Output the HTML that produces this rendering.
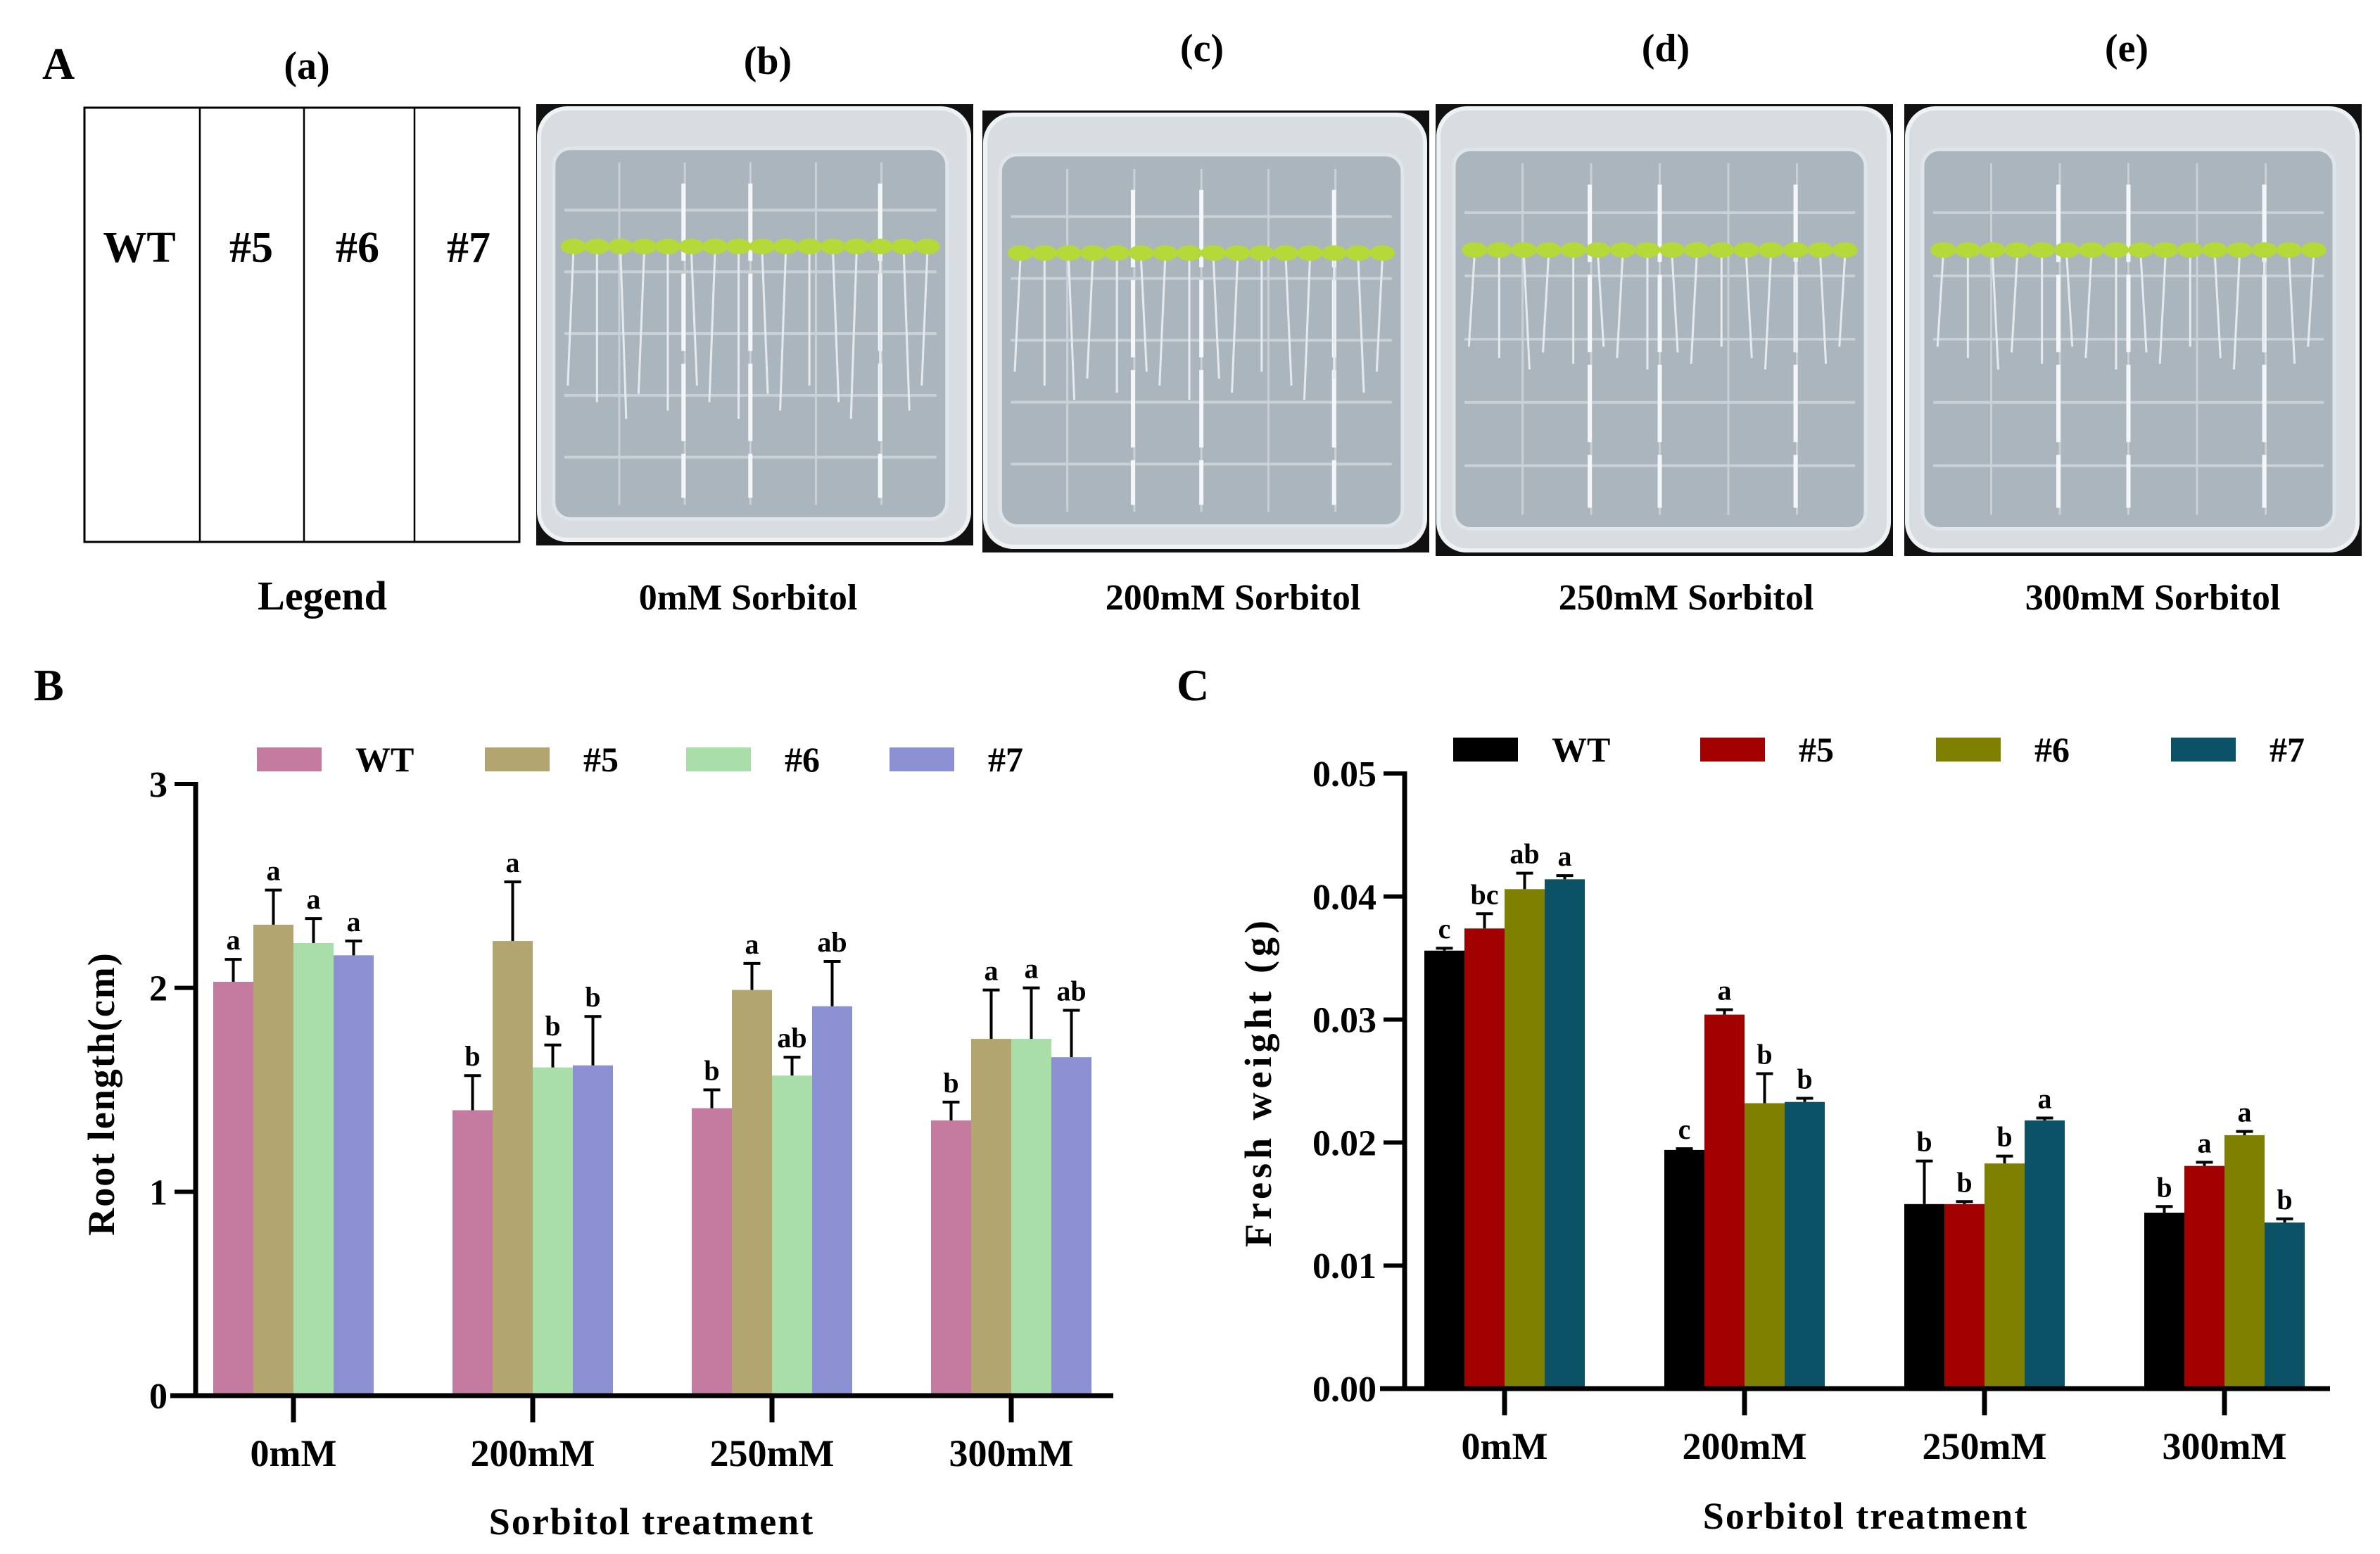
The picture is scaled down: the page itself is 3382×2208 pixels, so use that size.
<!DOCTYPE html>
<html><head><meta charset="utf-8"><style>
html,body{margin:0;padding:0;background:#fff}
svg{display:block}
text{font-family:"Liberation Serif",serif;font-weight:bold;fill:#000}
</style></head><body>
<svg id="fig" width="3382" height="2208" viewBox="0 0 3382 2208" xmlns="http://www.w3.org/2000/svg">
<g id="panelA">
<text x="60" y="112" font-size="64">A</text>
<text x="436" y="112" font-size="56" text-anchor="middle">(a)</text>
<rect x="120" y="153" width="618" height="617" fill="#fff" stroke="#000" stroke-width="3"/>
<line x1="284" y1="153" x2="284" y2="770" stroke="#000" stroke-width="2.5"/>
<line x1="432" y1="153" x2="432" y2="770" stroke="#000" stroke-width="2.5"/>
<line x1="589" y1="153" x2="589" y2="770" stroke="#000" stroke-width="2.5"/>
<text x="198" y="372" font-size="62" text-anchor="middle">WT</text>
<text x="357" y="372" font-size="62" text-anchor="middle">#5</text>
<text x="508" y="372" font-size="62" text-anchor="middle">#6</text>
<text x="666" y="372" font-size="62" text-anchor="middle">#7</text>
<text x="458" y="866" font-size="58" text-anchor="middle">Legend</text>
</g>
<g id="plates"></g>
<g id="chartB"></g>
<g id="chartC"></g>
</svg>
<script>
const NS="http://www.w3.org/2000/svg";
function mk(parent,tag,attrs,txt){const e=document.createElementNS(NS,tag);for(const k in attrs)e.setAttribute(k,attrs[k]);if(txt!==undefined)e.textContent=txt;parent.appendChild(e);return e;}

// ---------- plate photos ----------
const plateLabels=["(b)","(c)","(d)","(e)"];
const plateCaptions=["0mM Sorbitol","200mM Sorbitol","250mM Sorbitol","300mM Sorbitol"];
const plateBoxes=[[762,148,621,627,1091,105,1063],[1396,157,635,628,1708,87,1752],[2040,148,650,642,2367,87,2396],[2706,148,650,642,3022,87,3059]];
const pg=document.getElementById('plates');
plateBoxes.forEach((b,i)=>{
  const [x,y,w,h,lx,ly,cx]=b;
  const g=mk(pg,'g',{});
  
  
  mk(g,'rect',{x:x,y:y,width:w,height:h,fill:'#111'});
  mk(g,'rect',{x:x+4,y:y+6,width:w-10,height:h-14,rx:40,fill:'#d8dde2',stroke:'#eef2f4','stroke-width':6});
  const ix=x+w*0.04,iy=y+h*0.1,iw=w*0.9,ih=h*0.84;
  mk(g,'rect',{x:ix,y:iy,width:iw,height:ih,rx:24,fill:'#aab5be',stroke:'#dfe5e8','stroke-width':5});
  for(let k=1;k<6;k++){mk(g,'line',{x1:ix+iw*k/6,y1:iy+20,x2:ix+iw*k/6,y2:iy+ih-20,stroke:'#c9d1d7','stroke-width':3});}
  for(let k=1;k<6;k++){mk(g,'line',{x1:ix+15,y1:iy+ih*k/6,x2:ix+iw-15,y2:iy+ih*k/6,stroke:'#c9d1d7','stroke-width':4});}
  [0.33,0.5,0.83].forEach(f=>mk(g,'line',{x1:ix+iw*f,y1:iy+50,x2:ix+iw*f,y2:iy+ih-30,stroke:'#f4f6f7','stroke-width':6,'stroke-dasharray':'110,18'}));
  const rootLen=[0.45,0.38,0.3,0.3][i];
  for(let s=0;s<16;s++){
    const sx=ix+iw*(0.05+0.9*s/15), sy=iy+ih*0.28;
    mk(g,'line',{x1:sx,y1:sy,x2:sx+(s%3-1)*8,y2:sy+ih*rootLen*(0.8+0.2*((s*7)%5)/4),stroke:'#e6eaec','stroke-width':3});
    mk(g,'ellipse',{cx:sx,cy:sy-8,rx:18,ry:11,fill:'#b6d93a'});
  }
  const t=mk(pg,'text',{x:lx,y:ly,'font-size':56,'text-anchor':'middle'},plateLabels[i]);
  
  
  const c=mk(pg,'text',{x:cx,y:866,'font-size':52,'text-anchor':'middle'},plateCaptions[i]);
  
  
});

// ---------- chart data ----------
const categories=["0mM","200mM","250mM","300mM"];
const seriesNames=["WT","#5","#6","#7"];
// Root length (cm)
const rootWT=[2.03,1.40,1.41,1.35];
const root5=[2.31,2.23,1.99,1.75];
const root6=[2.22,1.61,1.57,1.75];
const root7=[2.16,1.62,1.91,1.66];
const rootErrWT=[0.11,0.17,0.09,0.09];
const rootErr5=[0.17,0.29,0.13,0.24];
const rootErr6=[0.12,0.11,0.09,0.25];
const rootErr7=[0.07,0.24,0.22,0.23];
const rootLetters=[["a","b","b","b"],["a","a","a","a"],["a","b","ab","a"],["a","b","ab","ab"]];
const rootTicks=[0,1,2,3];
// Fresh weight (g)
const fwWT=[0.0356,0.0194,0.0150,0.0143];
const fw5=[0.0374,0.0304,0.0150,0.0181];
const fw6=[0.0406,0.0232,0.0183,0.0206];
const fw7=[0.0414,0.0233,0.0218,0.0135];
const fwErrWT=[0.0002,0.0001,0.0035,0.0005];
const fwErr5=[0.0012,0.0004,0.0002,0.0003];
const fwErr6=[0.0013,0.0024,0.0006,0.0003];
const fwErr7=[0.0003,0.0003,0.0002,0.0003];
const fwLetters=[["c","c","b","b"],["bc","a","b","a"],["ab","b","b","a"],["a","b","a","b"]];
const fwTicks=[0,0.01,0.02,0.03,0.04,0.05];
const fwTickLabels=["0.00","0.01","0.02","0.03","0.04","0.05"];

function drawChart(o){
  const g=document.getElementById(o.id);
  const yScale=v=>o.y0-(v-o.ymin)/(o.ymax-o.ymin)*(o.y0-o.y1);
  const xCenter=i=>o.xs[0]+i*(o.xs[1]-o.xs[0]);
  const bw=57;
  const pl=mk(g,'text',{x:o.letterX,y:o.letterY,'font-size':64},o.letter);
  
  
  o.series.forEach((s,k)=>{
    const lg=mk(g,'g',{});
    
    
    mk(lg,'rect',{x:o.legX[k],y:o.legY,width:92,height:34,fill:o.colors[k]});
    mk(lg,'text',{x:o.legX[k]+140,y:o.legY+34,'font-size':50},seriesNames[k]);
  });
  categories.forEach((c,i)=>{
    o.series.forEach((s,k)=>{
      const v=s[i],e=o.errs[k][i];
      const x=xCenter(i)-2*bw+k*bw;
      const yt=yScale(v),ye=yScale(v+e);
      const r=mk(g,'rect',{x:x,y:yt,width:bw,height:o.y0-yt,fill:o.colors[k]});
      
      
      const cxp=x+bw/2;
      mk(g,'line',{x1:cxp,y1:yt,x2:cxp,y2:ye,stroke:'#000','stroke-width':4});
      mk(g,'line',{x1:cxp-12,y1:ye,x2:cxp+12,y2:ye,stroke:'#000','stroke-width':4});
      const lt=mk(g,'text',{x:cxp,y:ye-14,'font-size':40,'text-anchor':'middle'},o.letters[k][i]);
      
      
    });
    mk(g,'line',{x1:xCenter(i),y1:o.y0,x2:xCenter(i),y2:o.y0+38,stroke:'#000','stroke-width':7});
    const cl=mk(g,'text',{x:xCenter(i),y:o.y0+100,'font-size':54,'text-anchor':'middle'},c);
    
    
  });
  const ya=mk(g,'line',{x1:o.ax,y1:o.y1-3,x2:o.ax,y2:o.y0+3,stroke:'#000','stroke-width':7});
  
  
  const xa=mk(g,'line',{x1:o.xa0,y1:o.y0,x2:o.xa1,y2:o.y0,stroke:'#000','stroke-width':7});
  
  
  o.ticks.forEach((t,j)=>{
    const y=yScale(t);
    mk(g,'line',{x1:o.ax-30,y1:y,x2:o.ax,y2:y,stroke:'#000','stroke-width':6});
    const tl=mk(g,'text',{x:o.ax-40,y:y+18,'font-size':52,'text-anchor':'end'},o.tickLabels[j]);
    
    
  });
  const yt=mk(g,'text',{x:o.ytx,y:o.yty,'font-size':54,'text-anchor':'middle','letter-spacing':o.ls,transform:`rotate(-90 ${o.ytx} ${o.yty})`},o.ytitle);
  
  
  const xt=mk(g,'text',{x:o.xtx,y:o.xty,'font-size':54,'text-anchor':'middle','letter-spacing':2},'Sorbitol treatment');
  
  
}

drawChart({id:'chartB',letter:'B',letterX:48,letterY:995,
  series:[rootWT,root5,root6,root7],errs:[rootErrWT,rootErr5,rootErr6,rootErr7],letters:rootLetters,
  colors:['#c47b9f','#b2a56f','#a9dea9','#8a90d1'],
  ymin:0,ymax:3,y0:1983,y1:1114,ax:278,xa0:242,xa1:1582,xs:[417,757],
  ticks:rootTicks,tickLabels:rootTicks.map(String),
  legX:[365,689,975,1264],legY:1062,
  ytitle:'Root length(cm)',ytx:162,yty:1554,ls:2,xtx:926,xty:2180});
drawChart({id:'chartC',letter:'C',letterX:1672,letterY:995,
  series:[fwWT,fw5,fw6,fw7],errs:[fwErrWT,fwErr5,fwErr6,fwErr7],letters:fwLetters,
  colors:['#000000','#a30000','#808000','#0b5266'],
  ymin:0,ymax:0.05,y0:1973,y1:1099,ax:1996,xa0:1961,xa1:3311,xs:[2138,2479],
  ticks:fwTicks,tickLabels:fwTickLabels,
  legX:[2065,2416,2751,3085],legY:1048,
  ytitle:'Fresh weight (g)',ytx:1806,yty:1537,ls:6,xtx:2651,xty:2172});
</script>
</body></html>
